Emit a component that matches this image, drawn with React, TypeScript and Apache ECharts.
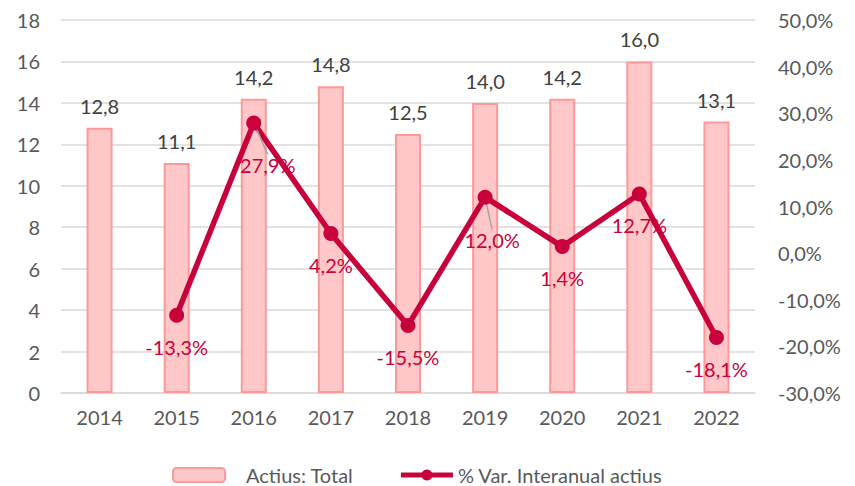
import React, { useEffect, useRef } from "react";
import * as echarts from "echarts";

const categories = ["2014", "2015", "2016", "2017", "2018", "2019", "2020", "2021", "2022"];
const actiusTotal = [12.8, 11.1, 14.2, 14.8, 12.5, 14.0, 14.2, 16.0, 13.1];
const varInteranual: (number | null)[] = [null, -13.3, 27.9, 4.2, -15.5, 12.0, 1.4, 12.7, -18.1];
const leftTicks = { min: 0, max: 18, interval: 2 };
const rightTicks = { min: -30, max: 50, interval: 10 };
const leaderLineIdx = [2, 5];

const fmt1 = (v: number) => v.toFixed(1).replace(".", ",");
const FONT = "Lato, 'Open Sans', sans-serif";
const RED = "#C8003C";

export default function App() {
  const ref = useRef<HTMLDivElement>(null);
  useEffect(() => {
    if (!ref.current) return;
    const chart = echarts.init(ref.current, null, { renderer: "svg" });
    const lineData = varInteranual.map((v, i) =>
      leaderLineIdx.includes(i)
        ? { value: v, labelLine: { show: true, lineStyle: { color: "#A6A6A6", width: 1.5 } } }
        : { value: v }
    );
    chart.setOption({
      animation: false,
      textStyle: { fontFamily: FONT },
      grid: { left: 61, right: 100, top: 20, bottom: 93, containLabel: false },
      legend: {
        top: 460,
        left: 167,
        itemWidth: 52,
        itemHeight: 14,
        itemGap: 45,
        textStyle: { fontSize: 20, color: "#595959", fontFamily: FONT },
        data: [
          {
            name: "Actius: Total",
            itemStyle: { color: "#FFC7C7", borderColor: "#FF9999", borderWidth: 2 },
            textStyle: { padding: [0, 0, 0, 16] },
          },
          {
            name: "% Var. Interanual actius",
            itemStyle: { color: RED },
            lineStyle: { color: RED, width: 5 },
          },
        ],
      },
      xAxis: {
        type: "category",
        data: categories,
        axisLine: { lineStyle: { color: "#D9D9D9", width: 1.5 } },
        axisTick: { show: false },
        axisLabel: { color: "#595959", fontSize: 20, margin: 14, fontFamily: FONT },
      },
      yAxis: [
        {
          type: "value",
          ...leftTicks,
          axisLine: { show: false },
          axisTick: { show: false },
          splitLine: { lineStyle: { color: "#D9D9D9", width: 1.5 } },
          axisLabel: { color: "#595959", fontSize: 20, margin: 21, fontFamily: FONT },
        },
        {
          type: "value",
          ...rightTicks,
          position: "right",
          axisLine: { show: false },
          axisTick: { show: false },
          splitLine: { show: false },
          axisLabel: {
            color: "#595959",
            fontSize: 20,
            margin: 23,
            fontFamily: FONT,
            formatter: (v: number) => fmt1(v) + "%",
          },
        },
      ],
      series: [
        {
          name: "Actius: Total",
          type: "bar",
          data: actiusTotal,
          barWidth: 26,
          itemStyle: { color: "#FFC7C7", borderColor: "#FF9999", borderWidth: 2 },
          label: {
            show: true,
            position: "top",
            distance: 12,
            color: "#404040",
            fontSize: 20,
            fontFamily: FONT,
            formatter: (p: any) => fmt1(p.value),
          },
        },
        {
          name: "% Var. Interanual actius",
          type: "line",
          yAxisIndex: 1,
          data: lineData,
          symbol: "circle",
          symbolSize: 15,
          lineStyle: { color: RED, width: 5.5 },
          itemStyle: { color: RED },
          label: {
            show: true,
            position: "bottom",
            distance: 14,
            color: RED,
            fontSize: 20,
            fontFamily: FONT,
            formatter: (p: any) => (p.value == null ? "" : fmt1(p.value) + "%"),
          },
          labelLine: { show: false, lineStyle: { color: "#A6A6A6", width: 1.5 } },
          labelLayout: (params: any) => {
            if (params.dataIndex === 2) return { dx: 14, dy: 10 };
            if (params.dataIndex === 5) return { dx: 7, dy: 11 };
            return {};
          },
        },
      ],
    });
    return () => chart.dispose();
  }, []);
  return <div ref={ref} style={{ width: 855, height: 486, position: "absolute", left: 0, top: 0, background: "#fff" }} />;
}
